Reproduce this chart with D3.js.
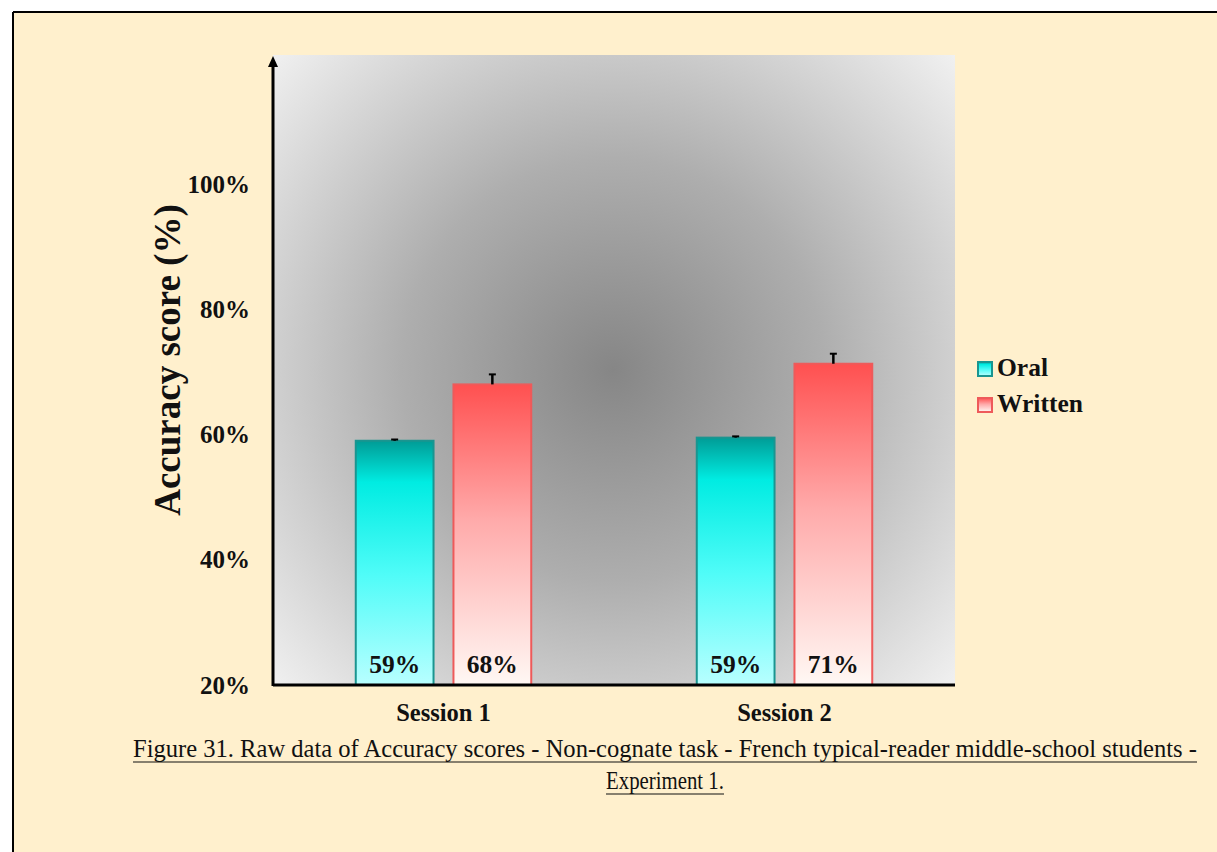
<!DOCTYPE html>
<html>
<head>
<meta charset="utf-8">
<script src="https://cdn.jsdelivr.net/npm/d3@7"></script>
<style>
  body { margin: 0; background: #fff; }
  svg { display: block; }
</style>
</head>
<body>
<svg id="foo" width="1217" height="852"></svg>
<script>
// data
var sessions = ["Session 1", "Session 2"];
var series = ["Oral", "Written"];
var oralValues = [59.0, 59.5];
var writtenValues = [68.0, 71.3];
var oralErrors = [0.2, 0.2];
var writtenErrors = [1.6, 1.6];
var valueLabels = [["59%", "68%"], ["59%", "71%"]];
var yTicks = [20, 40, 60, 80, 100];
var captionLines = [
  "Figure 31. Raw data of Accuracy scores - Non-cognate task - French typical-reader middle-school students -",
  "Experiment 1."
];

var svg = d3.select('#foo');
var defs = svg.append("defs");

// page background + frame
svg.append("rect")
  .attr("x", 13).attr("y", 12)
  .attr("width", 1217 - 13).attr("height", 852 - 12)
  .style("fill", "#fff0cd");
svg.append("line")
  .attr("x1", 13).attr("y1", 12).attr("x2", 1217).attr("y2", 12)
  .style("stroke", "black").style("stroke-width", 2);
svg.append("line")
  .attr("x1", 13).attr("y1", 12).attr("x2", 13).attr("y2", 852)
  .style("stroke", "black").style("stroke-width", 2);

var plotLeft = 273, plotRight = 955, plotTop = 55, plotBottom = 685;

var y = d3.scaleLinear().domain([20, 120.6]).range([plotBottom, plotTop]);
var x0 = d3.scaleBand().domain(sessions).range([plotLeft, plotRight]).paddingInner(0).paddingOuter(0);
var x1 = d3.scaleBand().domain(series).range([0, x0.bandwidth()]).paddingInner(0.204).paddingOuter(0.847);

// plot area radial gradient
var rg = defs.append("radialGradient")
  .attr("id", "plotbg")
  .attr("gradientUnits", "userSpaceOnUse")
  .attr("cx", 613).attr("cy", 370).attr("r", 470);
rg.append("stop").attr("offset", "0%").attr("stop-color", "#868686");
rg.append("stop").attr("offset", "45%").attr("stop-color", "#aeaeae");
rg.append("stop").attr("offset", "100%").attr("stop-color", "#f2f2f2");

svg.append("rect")
  .attr("x", plotLeft).attr("y", plotTop)
  .attr("width", plotRight - plotLeft).attr("height", plotBottom - plotTop)
  .style("fill", "url(#plotbg)");

// bar gradients
var gOral = defs.append("linearGradient").attr("id", "gOral")
  .attr("x1", 0).attr("y1", 0).attr("x2", 0).attr("y2", 1);
gOral.append("stop").attr("offset", "0%").attr("stop-color", "#009c96");
gOral.append("stop").attr("offset", "17%").attr("stop-color", "#00ece2");
gOral.append("stop").attr("offset", "55%").attr("stop-color", "#50fcf8");
gOral.append("stop").attr("offset", "100%").attr("stop-color", "#b8ffff");

var gWritten = defs.append("linearGradient").attr("id", "gWritten")
  .attr("x1", 0).attr("y1", 0).attr("x2", 0).attr("y2", 1);
gWritten.append("stop").attr("offset", "0%").attr("stop-color", "#ff5050");
gWritten.append("stop").attr("offset", "45%").attr("stop-color", "#ffaaaa");
gWritten.append("stop").attr("offset", "100%").attr("stop-color", "#fff8f4");

var fills = { Oral: "url(#gOral)", Written: "url(#gWritten)" };
var strokes = { Oral: "#1a9590", Written: "#ee5a5a" };

var rows = [];
sessions.forEach(function(s, i) {
  rows.push({ session: s, key: "Oral", value: oralValues[i], err: oralErrors[i], label: valueLabels[i][0] });
  rows.push({ session: s, key: "Written", value: writtenValues[i], err: writtenErrors[i], label: valueLabels[i][1] });
});

var bars = svg.append("g").selectAll("g.bar").data(rows).enter().append("g")
  .attr("transform", function(d) { return "translate(" + (x0(d.session) + x1(d.key)) + ",0)"; });

bars.append("rect")
  .attr("x", 0)
  .attr("y", function(d) { return y(d.value); })
  .attr("width", x1.bandwidth())
  .attr("height", function(d) { return y(20) - y(d.value); })
  .style("fill", function(d) { return fills[d.key]; })
  .style("stroke", function(d) { return strokes[d.key]; })
  .style("stroke-width", 2);

// error bars (upper only)
bars.append("line")
  .attr("x1", x1.bandwidth() / 2).attr("x2", x1.bandwidth() / 2)
  .attr("y1", function(d) { return y(d.value); })
  .attr("y2", function(d) { return y(d.value + d.err); })
  .style("stroke", "black").style("stroke-width", 2.5);
bars.append("line")
  .attr("x1", x1.bandwidth() / 2 - 3.5).attr("x2", x1.bandwidth() / 2 + 3.5)
  .attr("y1", function(d) { return y(d.value + d.err); })
  .attr("y2", function(d) { return y(d.value + d.err); })
  .style("stroke", "black").style("stroke-width", 2);

bars.append("text")
  .attr("x", x1.bandwidth() / 2)
  .attr("y", plotBottom - 12)
  .attr("text-anchor", "middle")
  .style("font-family", "'Liberation Serif', serif")
  .style("font-weight", "bold")
  .style("font-size", "25.5px")
  .style("fill", "#111")
  .text(function(d) { return d.label; });

// axes
svg.append("line")
  .attr("x1", plotLeft).attr("y1", plotBottom).attr("x2", plotRight).attr("y2", plotBottom)
  .style("stroke", "black").style("stroke-width", 3);
svg.append("line")
  .attr("x1", plotLeft).attr("y1", plotBottom + 1).attr("x2", plotLeft).attr("y2", plotTop + 10)
  .style("stroke", "black").style("stroke-width", 3);
svg.append("path")
  .attr("d", "M" + (plotLeft - 5) + "," + (plotTop + 12) + " L" + plotLeft + "," + (plotTop + 1) + " L" + (plotLeft + 5) + "," + (plotTop + 12) + " Z")
  .style("fill", "black");

var yAxis = svg.append("g")
  .attr("transform", "translate(" + plotLeft + ",0)")
  .call(d3.axisLeft(y).tickValues(yTicks).tickSize(0).tickPadding(23)
    .tickFormat(function(d) { return d + "%"; }));
yAxis.select(".domain").remove();
yAxis.selectAll("text")
  .style("font-family", "'Liberation Serif', serif")
  .style("font-weight", "bold")
  .style("font-size", "25px")
  .style("fill", "#111");

var xAxis = svg.append("g")
  .attr("transform", "translate(0," + plotBottom + ")")
  .call(d3.axisBottom(x0).tickSize(0).tickPadding(19));
xAxis.select(".domain").remove();
xAxis.selectAll("text")
  .style("font-family", "'Liberation Serif', serif")
  .style("font-weight", "bold")
  .style("font-size", "24.5px")
  .style("fill", "#111");

svg.append("text")
  .attr("transform", "translate(180,360) rotate(-90)")
  .attr("text-anchor", "middle")
  .style("font-family", "'Liberation Serif', serif")
  .style("font-weight", "bold")
  .style("font-size", "37px")
  .style("fill", "#111")
  .text("Accuracy score (%)");

// legend
var legend = svg.append("g").selectAll("g").data(series).enter().append("g")
  .attr("transform", function(d, i) { return "translate(978," + (376 + i * 36) + ")"; });
legend.append("rect")
  .attr("x", 0).attr("y", -14).attr("width", 14).attr("height", 14)
  .style("fill", function(d) { return fills[d]; })
  .style("stroke", function(d) { return strokes[d]; })
  .style("stroke-width", 2);
legend.append("text")
  .attr("x", 19).attr("y", 0)
  .style("font-family", "'Liberation Serif', serif")
  .style("font-weight", "bold")
  .style("font-size", "25.5px")
  .style("fill", "#111")
  .text(function(d) { return d; });

// caption
var capY = [757, 789];
var capW = [1064, 118];
captionLines.forEach(function(t, i) {
  svg.append("text")
    .attr("x", 665).attr("y", capY[i])
    .attr("text-anchor", "middle")
    .attr("textLength", capW[i])
    .attr("lengthAdjust", "spacingAndGlyphs")
    .style("font-family", "'Liberation Serif', serif")
    .style("font-size", "25px")
    .style("fill", "#111")
    .text(t);
  svg.append("line")
    .attr("x1", 665 - capW[i] / 2).attr("x2", 665 + capW[i] / 2)
    .attr("y1", capY[i] + 5).attr("y2", capY[i] + 5)
    .style("stroke", "#111").style("stroke-width", 1.2);
});
</script>
</body>
</html>
